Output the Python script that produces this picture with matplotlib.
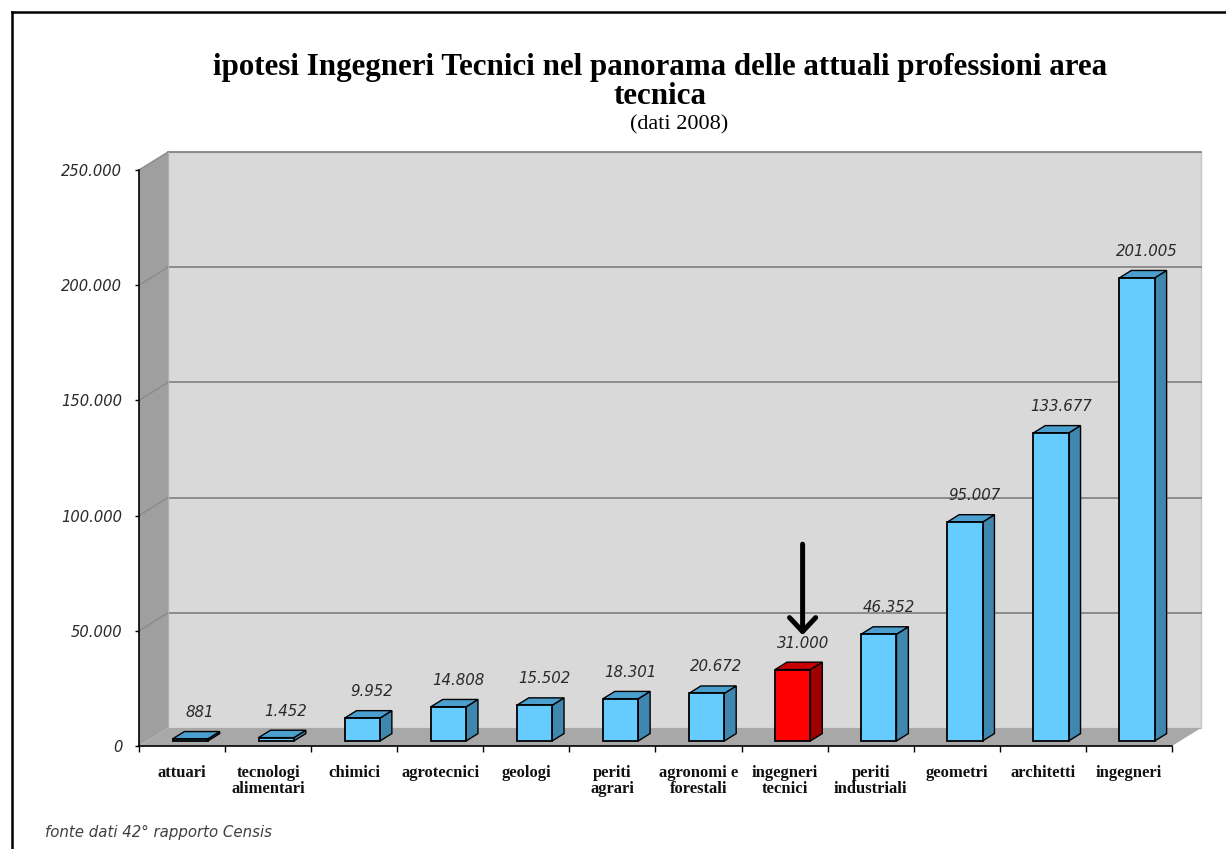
import matplotlib
matplotlib.use("Agg")
import matplotlib.pyplot as plt
from matplotlib.patches import Polygon
from matplotlib.lines import Line2D
import matplotlib.transforms as mtransforms

# ---------------- data ----------------
categories = ["attuari", "tecnologi\nalimentari", "chimici", "agrotecnici", "geologi",
              "periti\nagrari", "agronomi e\nforestali", "ingegneri\ntecnici",
              "periti\nindustriali", "geometri", "architetti", "ingegneri"]
values = [881, 1452, 9952, 14808, 15502, 18301, 20672, 31000, 46352, 95007, 133677, 201005]
highlight = "ingegneri\ntecnici"
yticks = [0, 50000, 100000, 150000, 200000, 250000]

title_text = "ipotesi Ingegneri Tecnici nel panorama delle attuali professioni area\ntecnica"
subtitle_text = "(dati 2008)"
source_text = "fonte dati 42° rapporto Censis"

def fmt(v):
    return f"{v:,}".replace(",", ".")

# ---------------- layout ----------------
W, H = 1226, 849
fig = plt.figure(figsize=(W / 100, H / 100), dpi=100)
fig.patch.set_facecolor("white")

X0PX, X12PX = 139.0, 1172.0
Y0PX, YTOPPX = 746.0, 170.0
ymax = 250000
pxu = (X12PX - X0PX) / len(categories)
pxv = (Y0PX - YTOPPX) / ymax
xlim = (-0.3, 12.55)
ylim = (-20000, 262000)
lpx = X0PX + xlim[0] * pxu
rpx = X0PX + xlim[1] * pxu
bpx = Y0PX - ylim[0] * pxv
tpx = Y0PX - ylim[1] * pxv
ax = fig.add_axes([lpx / W, 1 - bpx / H, (rpx - lpx) / W, (bpx - tpx) / H])
ax.set_xlim(*xlim)
ax.set_ylim(*ylim)
ax.patch.set_alpha(0)

n = len(categories)
DX = 29 / pxu          # depth in category units
DY = 18 / pxv          # depth in value units
PT = 72 / 100          # points per pixel

# walls
back = Polygon([(DX, DY), (n + DX, DY), (n + DX, ymax + DY), (DX, ymax + DY)],
               closed=True, facecolor="#d9d9d9", edgecolor="#c4c4c4", lw=1.0, zorder=1)
ax.add_patch(back)
left = Polygon([(0, 0), (DX, DY), (DX, ymax + DY), (0, ymax)],
               closed=True, facecolor="#9f9f9f", edgecolor="none", zorder=1.1)
ax.add_patch(left)
floor = Polygon([(0, 0), (n, 0), (n + DX, DY), (DX, DY)],
                closed=True, facecolor="#a8a8a8", edgecolor="none", zorder=1.1)
ax.add_patch(floor)

# gridlines
for t in yticks[1:]:
    ax.plot([DX, n + DX], [t + DY, t + DY], color="#7f7f7f", lw=1.2, zorder=1.2)
    ax.plot([0, DX], [t, t + DY], color="#8a8a8a", lw=1.0, zorder=1.2)
ax.plot([DX, DX], [DY, ymax + DY], color="#b0b0b0", lw=0.8, zorder=1.2)

# bars
F0, FD, BW = 0.28, 0.41, 0.41
for i, (c, v) in enumerate(zip(categories, values)):
    if c == highlight:
        fc, sc, tc = "#ff0000", "#a00000", "#c80000"
    else:
        fc, sc, tc = "#66ccff", "#3f87ae", "#4a9fcf"
    xl = i + 0.5 - BW / 2 + F0 * DX
    y0 = F0 * DY
    ax.bar(xl, v, width=BW, bottom=y0, align="edge", color=fc,
           edgecolor="black", lw=1.3, zorder=4)
    side = Polygon([(xl + BW, y0), (xl + BW + FD * DX, y0 + FD * DY),
                    (xl + BW + FD * DX, y0 + v + FD * DY), (xl + BW, y0 + v)],
                   closed=True, facecolor=sc, edgecolor="black", lw=1.0, zorder=3.9)
    ax.add_patch(side)
    top = Polygon([(xl, y0 + v), (xl + FD * DX, y0 + v + FD * DY),
                   (xl + BW + FD * DX, y0 + v + FD * DY), (xl + BW, y0 + v)],
                  closed=True, facecolor=tc, edgecolor="black", lw=1.0, zorder=3.9)
    ax.add_patch(top)
    lx = i + 0.5 + 0.62 * DX
    ly = v + (F0 + FD) * DY
    ax.annotate(fmt(v), xy=(lx, ly), xytext=(0, 19 * PT), textcoords="offset points",
                ha="center", va="center", fontsize=10.8, style="italic",
                color="#2a2a2a", family="DejaVu Sans", zorder=6)
    if c == highlight:
        tr = mtransforms.offset_copy(ax.transData, fig=fig, x=0, y=27 * PT, units="points")
        tr2 = mtransforms.offset_copy(ax.transData, fig=fig, x=0, y=118 * PT, units="points")
        ax.annotate("", xy=(lx, ly), xycoords=tr, xytext=(lx, ly), textcoords=tr2,
                    arrowprops=dict(arrowstyle="->,head_length=0.5,head_width=0.47",
                                    lw=3.6, color="black", mutation_scale=20,
                                    shrinkA=0, shrinkB=0), zorder=6)

# axes styling
for s in ["top", "right"]:
    ax.spines[s].set_visible(False)
ax.spines["left"].set_position(("data", 0))
ax.spines["left"].set_bounds(0, ymax)
ax.spines["left"].set_color("black")
ax.spines["left"].set_linewidth(1.2)
ax.spines["bottom"].set_position(("data", 0))
ax.spines["bottom"].set_bounds(0, n)
ax.spines["bottom"].set_color("black")
ax.spines["bottom"].set_linewidth(1.2)

ax.set_yticks(yticks)
ax.set_yticklabels([fmt(t) for t in yticks], fontsize=10.6, style="italic",
                   color="#2a2a2a", family="DejaVu Sans")
ax.tick_params(axis="y", direction="out", length=3, width=1.0, pad=9)

ax.set_xticks(range(0, n + 1))
ax.set_xticklabels([])
ax.tick_params(axis="x", which="major", direction="out", length=4.3, width=1.0)
ax.set_xticks([i + 0.5 for i in range(n)], minor=True)
ax.set_xticklabels(categories, minor=True, fontsize=12, fontweight="bold",
                   family="Liberation Serif", linespacing=0.98, color="#111111")
ax.tick_params(axis="x", which="minor", length=0, pad=13.5)

# titles
fig.text(660 / W, 1 - 82 / H, title_text, ha="center", va="center",
         fontsize=22.3, fontweight="bold", family="Liberation Serif",
         linespacing=1.0, color="black")
fig.text(679 / W, 1 - 125 / H, subtitle_text, ha="center", va="center",
         fontsize=16, family="Liberation Serif", color="black")
fig.text(45 / W, 1 - 832 / H, source_text, ha="left", va="center",
         fontsize=10.8, style="italic", family="DejaVu Sans", color="#404040")

# frame
fig.add_artist(Line2D([12 / W, 12 / W], [0, 1 - 12 / H], color="black", lw=1.8,
                      transform=fig.transFigure))
fig.add_artist(Line2D([12 / W, 1], [1 - 12 / H, 1 - 12 / H], color="black", lw=1.8,
                      transform=fig.transFigure))

fig.savefig("out.png", dpi=100)
